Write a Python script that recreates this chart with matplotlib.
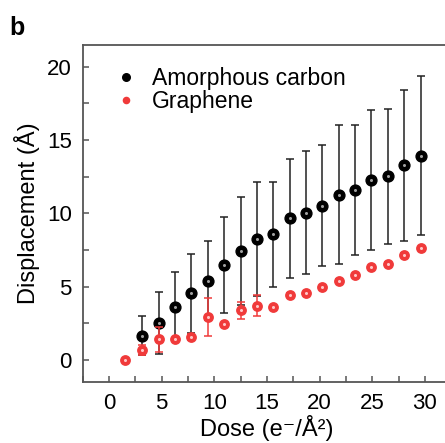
import matplotlib
matplotlib.use("Agg")
import matplotlib.pyplot as plt
from matplotlib.ticker import MultipleLocator

plt.rcParams['font.family'] = ['Liberation Sans', 'DejaVu Sans']

# Amorphous carbon: dose, mean displacement, error
dose_ac = [3.15, 4.7, 6.25, 7.8, 9.4, 10.95, 12.5, 14.05, 15.6, 17.15, 18.7,
           20.25, 21.8, 23.35, 24.9, 26.45, 28.0, 29.6]
disp_ac = [1.64, 2.53, 3.64, 4.53, 5.41, 6.48, 7.42, 8.26, 8.58, 9.67, 10.04,
           10.53, 11.27, 11.6, 12.27, 12.52, 13.27, 13.92]
err_ac = [1.32, 2.12, 2.36, 2.7, 2.72, 3.3, 3.7, 3.87, 3.58, 4.05, 4.2,
          4.15, 4.74, 4.42, 4.77, 4.62, 5.14, 5.43]

# Graphene
dose_gr = [1.55, 3.15, 4.7, 6.25, 7.8, 9.4, 10.95, 12.5, 14.05, 15.6, 17.15,
           18.7, 20.25, 21.8, 23.35, 24.9, 26.45, 28.0, 29.6]
disp_gr = [0.0, 0.68, 1.41, 1.41, 1.55, 2.91, 2.43, 3.38, 3.71, 3.6, 4.44,
           4.55, 4.94, 5.39, 5.76, 6.33, 6.55, 7.17, 7.62]
err_gr = [0.05, 0.35, 0.85, 0.1, 0.2, 1.3, 0.1, 0.56, 0.7, 0.1, 0.1,
          0.1, 0.1, 0.1, 0.1, 0.1, 0.1, 0.1, 0.1]

red = '#f03a3a'
spine_col = '#555555'

fig = plt.figure(figsize=(4.45, 4.43), dpi=100)
ax = fig.add_axes([0.186, 0.138, 0.828, 0.761])

ax.errorbar(dose_ac, disp_ac, yerr=err_ac, fmt='none', ecolor='#222222',
            elinewidth=1.1, capsize=3.2, capthick=1.1, zorder=2)
ax.plot(dose_ac, disp_ac, 'o', color='black', markersize=7.8, zorder=3,
        label='Amorphous carbon')
ax.plot(dose_ac, disp_ac, 'o', color='#a0a0a0', markersize=2.2, zorder=3.1,
        markeredgewidth=0)

ax.errorbar(dose_gr, disp_gr, yerr=err_gr, fmt='none', ecolor=red,
            elinewidth=1.1, capsize=3.2, capthick=1.1, zorder=4)
ax.plot(dose_gr, disp_gr, 'o', color=red, markersize=7.8, zorder=5,
        label='Graphene', markeredgewidth=0)
ax.plot(dose_gr, disp_gr, 'o', color='#ffc8c8', markersize=2.2, zorder=5.1,
        markeredgewidth=0)

ax.set_xlim(-2.5, 32.5)
ax.set_ylim(-1.5, 21.5)
ax.xaxis.set_major_locator(MultipleLocator(5))
ax.xaxis.set_minor_locator(MultipleLocator(2.5))
ax.yaxis.set_major_locator(MultipleLocator(5))
ax.yaxis.set_minor_locator(MultipleLocator(2.5))
ax.tick_params(which='both', direction='in', length=4, width=1.1,
               color=spine_col, labelsize=16, pad=8)
ax.tick_params(which='both', top=False, right=False)
for s in ax.spines.values():
    s.set_color(spine_col)
    s.set_linewidth(1.3)

ax.set_xlabel('Dose (e⁻/Å²)', fontsize=17, labelpad=1)
ax.set_ylabel('Displacement (Å)', fontsize=17, labelpad=5)

leg = ax.legend(loc='upper left', bbox_to_anchor=(0.075, 0.96), frameon=False,
                fontsize=16.5, handlelength=0.6, handletextpad=0.8,
                labelspacing=0.0, markerscale=0.7, borderaxespad=0)

fig.text(0.02, 0.965, 'b', fontsize=18, fontweight='bold', va='top')

fig.savefig('out.png', dpi=100)
